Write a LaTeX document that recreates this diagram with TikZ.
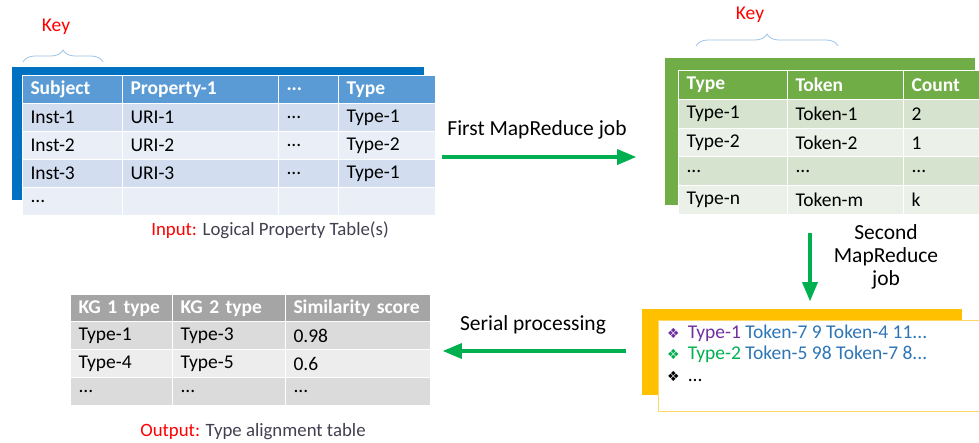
\documentclass[tikz,border=0pt]{standalone}
\usepackage{fontspec}
\setmainfont{Carlito}
\newfontfamily\symfont{DejaVu Sans}
\usepackage{tikz}
\usetikzlibrary{arrows}
\usetikzlibrary{decorations.pathreplacing}
\definecolor{blue_back}{RGB}{0,112,192}
\definecolor{blue_head}{RGB}{91,155,213}
\definecolor{blue_row_a}{RGB}{210,222,239}
\definecolor{blue_row_b}{RGB}{234,239,247}
\definecolor{green_head}{RGB}{112,173,71}
\definecolor{green_row_a}{RGB}{213,227,207}
\definecolor{green_row_b}{RGB}{235,241,233}
\definecolor{gray_head}{RGB}{165,165,165}
\definecolor{gray_row_a}{RGB}{219,219,219}
\definecolor{gray_row_b}{RGB}{237,237,237}
\definecolor{gold_back}{RGB}{255,192,0}
\definecolor{gold_edge}{RGB}{255,217,102}
\definecolor{edge_green}{RGB}{0,176,80}
\definecolor{key_red}{RGB}{255,0,0}
\definecolor{brace_blue}{RGB}{157,195,230}
\definecolor{cap_gray}{RGB}{64,64,80}
\definecolor{type_purple}{RGB}{112,48,160}
\definecolor{token_blue}{RGB}{46,117,182}
\newcommand{\tabfont}{\fontsize{19.5}{23}\selectfont}
\newcommand{\bul}{{\symfont\fontsize{14}{16}\selectfont ❖}\hspace{8pt}}

\begin{document}
\begin{tikzpicture}[x=1pt,y=-1pt,>=triangle 45]
    \tikzstyle{cell}=[rectangle, draw=white, line width=1pt, anchor=north west, align=left,
                      inner xsep=8pt, inner ysep=0pt, minimum height=28pt, text=black, font=\tabfont]
    \tikzstyle{bhd}=[style=cell, fill=blue_head, text=white, font=\tabfont\bfseries]
    \tikzstyle{bra}=[style=cell, fill=blue_row_a]
    \tikzstyle{brb}=[style=cell, fill=blue_row_b]
    \tikzstyle{ghd}=[style=cell, fill=green_head, text=white, font=\tabfont\bfseries, minimum height=29pt]
    \tikzstyle{gra}=[style=cell, fill=green_row_a, minimum height=29pt]
    \tikzstyle{grb}=[style=cell, fill=green_row_b, minimum height=29pt]
    \tikzstyle{hhd}=[style=cell, fill=gray_head, text=white, font=\tabfont\bfseries]
    \tikzstyle{hra}=[style=cell, fill=gray_row_a]
    \tikzstyle{hrb}=[style=cell, fill=gray_row_b]
    \tikzstyle{back}=[rectangle, anchor=north west, inner sep=0pt]
    \tikzstyle{keyred}=[text=key_red, font=\fontsize{19.5}{23}\selectfont]
    \tikzstyle{keybrace}=[draw=brace_blue, line width=0.8pt, decorate, decoration={brace, amplitude=12pt}]
    \tikzstyle{job}=[->, draw=edge_green, line width=3.5pt]
    \tikzstyle{lbl}=[text=black, font=\fontsize{21.5}{23}\selectfont, align=center]
    \tikzstyle{captxt}=[text=cap_gray, font=\fontsize{18.8}{22}\selectfont]
    \tikzstyle{item}=[anchor=west, inner sep=0pt, font=\tabfont]

    \useasboundingbox (0,0) rectangle (979,442);

    % input table
    \node[back, fill=blue_back, minimum width=412pt, minimum height=133pt] (ib) at (12,67) {};
    \node[bhd, text width=84pt]  (ih1) at (22,75)  {Subject};
    \node[bhd, text width=140pt] (ih2) at (122,75) {Property-1};
    \node[bhd, text width=44pt]  (ih3) at (278,75) {...};
    \node[bhd, text width=81pt]  (ih4) at (338,75) {Type};
    \node[bra, text width=84pt]  (i11) at (22,103)  {Inst-1};
    \node[bra, text width=140pt] (i12) at (122,103) {URI-1};
    \node[bra, text width=44pt]  (i13) at (278,103) {...};
    \node[bra, text width=81pt]  (i14) at (338,103) {Type-1};
    \node[brb, text width=84pt]  (i21) at (22,131)  {Inst-2};
    \node[brb, text width=140pt] (i22) at (122,131) {URI-2};
    \node[brb, text width=44pt]  (i23) at (278,131) {...};
    \node[brb, text width=81pt]  (i24) at (338,131) {Type-2};
    \node[bra, text width=84pt]  (i31) at (22,159)  {Inst-3};
    \node[bra, text width=140pt] (i32) at (122,159) {URI-3};
    \node[bra, text width=44pt]  (i33) at (278,159) {...};
    \node[bra, text width=81pt]  (i34) at (338,159) {Type-1};
    \node[brb, text width=84pt]  (i41) at (22,187)  {...};
    \node[brb, text width=140pt] (i42) at (122,187) {};
    \node[brb, text width=44pt]  (i43) at (278,187) {};
    \node[brb, text width=81pt]  (i44) at (338,187) {};
    \node[keyred] (ik) at (56,27) {Key};
    \draw[keybrace] (23,62) -- (103,62);
    \node[captxt] (icap) at (270,230) {\textcolor{key_red}{Input:} Logical Property Table(s)};

    % type-token table
    \node[back, fill=green_head, minimum width=310pt, minimum height=147pt] (tb) at (665,58) {};
    \node[ghd, text width=93pt]  (th1) at (678,70) {Type};
    \node[ghd, text width=100pt] (th2) at (787,70) {Token};
    \node[ghd, text width=64pt]  (th3) at (903,70) {Count};
    \node[gra, text width=93pt]  (t11) at (678,99) {Type-1};
    \node[gra, text width=100pt] (t12) at (787,99) {Token-1};
    \node[gra, text width=64pt]  (t13) at (903,99) {2};
    \node[grb, text width=93pt]  (t21) at (678,128) {Type-2};
    \node[grb, text width=100pt] (t22) at (787,128) {Token-2};
    \node[grb, text width=64pt]  (t23) at (903,128) {1};
    \node[gra, text width=93pt]  (t31) at (678,156) {...};
    \node[gra, text width=100pt] (t32) at (787,156) {...};
    \node[gra, text width=64pt]  (t33) at (903,156) {...};
    \node[grb, text width=93pt]  (t41) at (678,185) {Type-n};
    \node[grb, text width=100pt] (t42) at (787,185) {Token-m};
    \node[grb, text width=64pt]  (t43) at (903,185) {k};
    \node[keyred] (tk) at (750,15) {Key};
    \draw[keybrace] (696,46) -- (838,46);

    % token lists
    \node[back, fill=gold_back, minimum width=320pt, minimum height=86pt] (yb) at (642,309) {};
    \node[back, fill=white, draw=gold_edge, line width=1pt, minimum width=340pt, minimum height=91pt] (wb) at (658,320) {};
    \node[item] (l1) at (667,333)
        {\textcolor{type_purple}{\bul Type-1} \textcolor{token_blue}{Token-7 9 Token-4 11...}};
    \node[item] (l2) at (667,354)
        {\textcolor{edge_green}{\bul Type-2} \textcolor{token_blue}{Token-5 98 Token-7 8...}};
    \node[item] (l3) at (667,376) {\bul ...};

    % alignment table
    \node[hhd, text width=86pt]  (oh1) at (70,294)  {KG 1 type};
    \node[hhd, text width=97pt]  (oh2) at (172,294) {KG 2 type};
    \node[hhd, text width=129pt] (oh3) at (285,294) {Similarity score};
    \node[hra, text width=86pt]  (o11) at (70,321)  {Type-1};
    \node[hra, text width=97pt]  (o12) at (172,321) {Type-3};
    \node[hra, text width=129pt] (o13) at (285,321) {0.98};
    \node[hrb, text width=86pt]  (o21) at (70,349)  {Type-4};
    \node[hrb, text width=97pt]  (o22) at (172,349) {Type-5};
    \node[hrb, text width=129pt] (o23) at (285,349) {0.6};
    \node[hra, text width=86pt]  (o31) at (70,377)  {...};
    \node[hra, text width=97pt]  (o32) at (172,377) {...};
    \node[hra, text width=129pt] (o33) at (285,377) {...};
    \node[captxt] (ocap) at (253,432) {\textcolor{key_red}{Output:} Type alignment table};

    % jobs
    \coordinate (f1) at (442,157);
    \coordinate (f2) at (636,157);
    \coordinate (s1) at (810,233);
    \coordinate (s2) at (810,301);
    \coordinate (p1) at (626,351);
    \coordinate (p2) at (443,351);
    \node[lbl] (fl) at (537,130) {First MapReduce job};
    \node[lbl] (sl) at (886,257) {Second\\MapReduce\\job};
    \node[lbl] (pl) at (533,325) {Serial processing};

    \path
     (f1) edge[job] (f2)
     (s1) edge[job] (s2)
     (p1) edge[job] (p2)
     ;
  \end{tikzpicture}
\end{document}
